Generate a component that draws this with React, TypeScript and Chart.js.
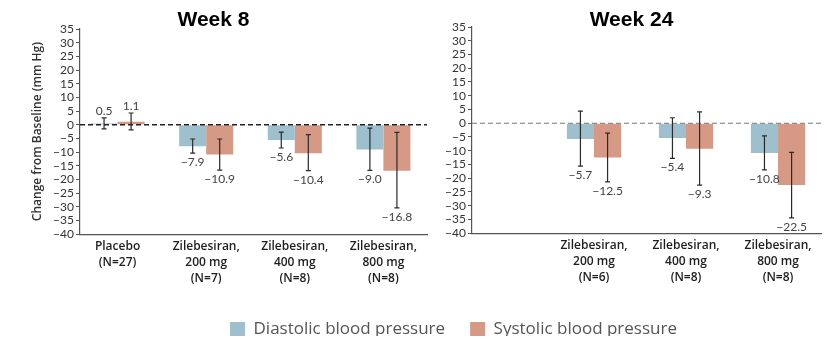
import React, { useEffect, useRef } from 'react';
import { Chart, registerables } from 'chart.js';

Chart.register(...registerables);

// ---------- data ----------
const week8Categories = [
  ['Placebo', '(N=27)'],
  ['Zilebesiran,', '200 mg', '(N=7)'],
  ['Zilebesiran,', '400 mg', '(N=8)'],
  ['Zilebesiran,', '800 mg', '(N=8)'],
];
const week8Slots = [0, 1, 2, 3];
const week8Diastolic = [0.5, -7.9, -5.6, -9.0];
const week8DiastolicLow = [-1.5, -10.4, -8.5, -16.7];
const week8DiastolicHigh = [2.5, -5.2, -2.7, -1.2];
const week8Systolic = [1.1, -10.9, -10.4, -16.8];
const week8SystolicLow = [-1.9, -16.6, -16.8, -30.4];
const week8SystolicHigh = [4.3, -5.2, -3.6, -2.8];

const week24Categories = [
  ['Zilebesiran,', '200 mg', '(N=6)'],
  ['Zilebesiran,', '400 mg', '(N=8)'],
  ['Zilebesiran,', '800 mg', '(N=8)'],
];
const week24Slots = [1, 2, 3];
const week24Diastolic = [-5.7, -5.4, -10.8];
const week24DiastolicLow = [-15.6, -12.8, -17.0];
const week24DiastolicHigh = [4.4, 2.0, -4.6];
const week24Systolic = [-12.5, -9.3, -22.5];
const week24SystolicLow = [-21.3, -22.5, -34.4];
const week24SystolicHigh = [-3.6, 4.1, -10.6];

const yTickValues = [35, 30, 25, 20, 15, 10, 5, 0, -5, -10, -15, -20, -25, -30, -35, -40];

const seriesNames = ['Diastolic blood pressure', 'Systolic blood pressure'];

// ---------- styles ----------
const DIA_COLOR = 'rgb(158,192,206)';
const SYS_COLOR = 'rgb(214,153,133)';
const MINUS = '\u2212';
const fmt = (v: number, d: number) => (v < 0 ? MINUS : '') + Math.abs(v).toFixed(d);

const overlayPlugin = {
  id: 'overlay',
  afterDatasetsDraw(chart: any, _args: any, opts: any) {
    const { ctx, chartArea } = chart;
    const y = chart.scales.y;
    const y0 = y.getPixelForValue(0);
    ctx.save();
    ctx.setLineDash(opts.dash);
    ctx.strokeStyle = opts.zeroColor;
    ctx.lineWidth = opts.zeroWidth;
    ctx.beginPath();
    ctx.moveTo(chartArea.left, y0);
    ctx.lineTo(chartArea.right + (opts.extend || 0), y0);
    ctx.stroke();
    ctx.setLineDash([]);
    chart.data.datasets.forEach((ds: any, i: number) => {
      const meta = chart.getDatasetMeta(i);
      meta.data.forEach((el: any, j: number) => {
        const x = el.x;
        const lo = y.getPixelForValue(ds.errLow[j]);
        const hi = y.getPixelForValue(ds.errHigh[j]);
        ctx.strokeStyle = '#2a2a2a';
        ctx.lineWidth = 1.2;
        ctx.beginPath();
        ctx.moveTo(x, hi);
        ctx.lineTo(x, lo);
        ctx.moveTo(x - 2.5, hi);
        ctx.lineTo(x + 2.5, hi);
        ctx.moveTo(x - 2.5, lo);
        ctx.lineTo(x + 2.5, lo);
        ctx.stroke();
        const v = ds.data[j];
        ctx.fillStyle = '#444';
        ctx.font = '12px Lato';
        ctx.textAlign = 'center';
        ctx.textBaseline = 'middle';
        ctx.fillText(fmt(v, 1), x, v < 0 ? lo + 9 : hi - 7);
      });
    });
    ctx.restore();
  },
};

function panelConfig(p: any) {
  return {
    type: 'bar',
    data: {
      labels: p.slots,
      datasets: [
        {
          label: seriesNames[0],
          data: p.dia,
          errLow: p.diaLow,
          errHigh: p.diaHigh,
          backgroundColor: DIA_COLOR,
          borderWidth: 0,
        },
        {
          label: seriesNames[1],
          data: p.sys,
          errLow: p.sysLow,
          errHigh: p.sysHigh,
          backgroundColor: SYS_COLOR,
          borderWidth: 0,
        },
      ],
    },
    options: {
      animation: false,
      responsive: false,
      devicePixelRatio: 1,
      layout: { padding: { left: 0, right: p.padRight, top: 0, bottom: p.padBottom } },
      datasets: { bar: { barPercentage: 1, categoryPercentage: p.catPct } },
      plugins: {
        legend: { display: false },
        tooltip: { enabled: false },
        title: {
          display: true,
          text: p.title,
          color: '#000',
          font: { family: 'Liberation Sans', size: 21, weight: 'bold', lineHeight: 1 },
          padding: { top: 10, bottom: p.titleBottom },
        },
        overlay: { dash: p.dash, zeroColor: p.zeroColor, zeroWidth: p.zeroWidth, extend: p.extend },
      },
      scales: {
        x: {
          type: 'linear',
          offset: false,
          min: p.xMin,
          max: p.xMax,
          afterBuildTicks: (s: any) => {
            s.ticks = p.slots.map((v: number) => ({ value: v }));
          },
          ticks: {
            autoSkip: false,
            maxRotation: 0,
            minRotation: 0,
            padding: 5,
            color: '#1e1e1e',
            font: { family: 'Open Sans', size: 12, weight: '600', lineHeight: 1.3 },
            callback: (v: number) => {
              const k = p.slots.indexOf(v);
              return k >= 0 ? p.categories[k] : '';
            },
          },
          grid: { display: false, drawTicks: false },
          border: { display: true, color: '#555', width: 1.2 },
        },
        y: {
          min: -40,
          max: 35,
          afterBuildTicks: (s: any) => {
            s.ticks = yTickValues.map((v) => ({ value: v }));
          },
          afterFit: (s: any) => {
            s.width = p.yWidth;
          },
          ticks: {
            autoSkip: false,
            padding: 2,
            color: '#333',
            font: { family: 'Lato', size: 12 },
            callback: (v: number) => fmt(v, 0),
          },
          grid: { display: true, drawOnChartArea: false, drawTicks: true, tickLength: 4, color: '#555', lineWidth: 1 },
          border: { display: true, color: '#555', width: 1.2 },
          title: p.yTitle
            ? {
                display: true,
                text: p.yTitle,
                color: '#333',
                font: { family: 'Open Sans', size: 12, weight: '600', lineHeight: 1.2 },
                padding: { top: 30, bottom: 0 },
              }
            : { display: false },
        },
      },
    },
    plugins: [overlayPlugin],
  };
}

function legendConfig() {
  return {
    type: 'bar',
    data: {
      labels: [],
      datasets: [
        { label: seriesNames[0], data: [], backgroundColor: DIA_COLOR, borderWidth: 0 },
        { label: seriesNames[1], data: [], backgroundColor: SYS_COLOR, borderWidth: 0 },
      ],
    },
    options: {
      animation: false,
      responsive: false,
      devicePixelRatio: 1,
      scales: { x: { display: false }, y: { display: false } },
      plugins: {
        tooltip: { enabled: false },
        legend: {
          display: true,
          position: 'top',
          labels: {
            boxWidth: 15,
            boxHeight: 15,
            padding: 25,
            color: '#555',
            font: { family: 'Open Sans', size: 17 },
          },
        },
      },
    },
  };
}

function ChartCanvas({ config, left, top, width, height }: any) {
  const ref = useRef<HTMLCanvasElement | null>(null);
  useEffect(() => {
    if (!ref.current) return;
    const chart = new Chart(ref.current, config as any);
    return () => chart.destroy();
  }, []);
  return (
    <canvas
      ref={ref}
      width={width}
      height={height}
      style={{ position: 'absolute', left, top, width, height, display: 'block' }}
    />
  );
}

export default function App() {
  const week8 = panelConfig({
    title: 'Week 8',
    slots: week8Slots,
    categories: week8Categories,
    dia: week8Diastolic,
    diaLow: week8DiastolicLow,
    diaHigh: week8DiastolicHigh,
    sys: week8Systolic,
    sysLow: week8SystolicLow,
    sysHigh: week8SystolicHigh,
    xMin: -0.424,
    xMax: 3.492,
    catPct: 0.61,
    yWidth: 80,
    padRight: 37,
    padBottom: 9,
    titleBottom: -2,
    yTitle: 'Change from Baseline (mm Hg)',
    dash: [5, 3],
    zeroColor: '#222',
    zeroWidth: 1.3,
    extend: 0,
  });
  const week24 = panelConfig({
    title: 'Week 24',
    slots: week24Slots,
    categories: week24Categories,
    dia: week24Diastolic,
    diaLow: week24DiastolicLow,
    diaHigh: week24DiastolicHigh,
    sys: week24Systolic,
    sysLow: week24SystolicLow,
    sysHigh: week24SystolicHigh,
    xMin: -0.326,
    xMax: 3.467,
    catPct: 0.59,
    yWidth: 30,
    padRight: 7,
    padBottom: 10,
    titleBottom: -4,
    yTitle: '',
    dash: [5, 3],
    zeroColor: '#777',
    zeroWidth: 1.1,
    extend: 1,
  });
  return (
    <div style={{ position: 'absolute', left: 0, top: 0, width: 828, height: 339, background: '#fff', overflow: 'hidden' }}>
      <ChartCanvas config={week8} left={0} top={0} width={464} height={300} />
      <ChartCanvas config={week24} left={442} top={0} width={386} height={300} />
      <ChartCanvas config={legendConfig()} left={79} top={296} width={749} height={80} />
    </div>
  );
}
